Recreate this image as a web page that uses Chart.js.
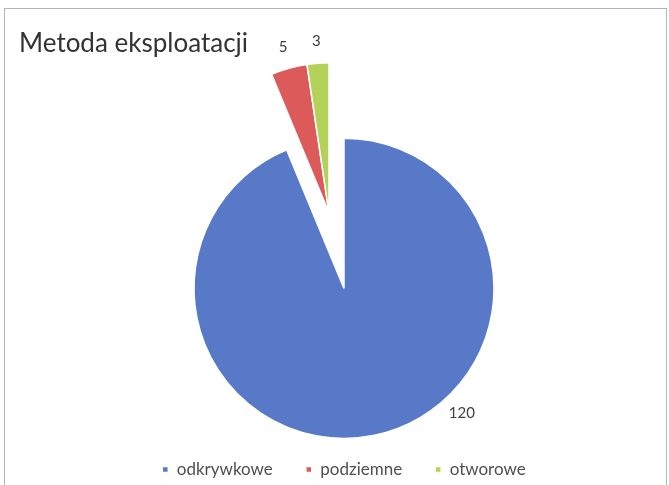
<!DOCTYPE html>
<html>
<head>
<meta charset="utf-8">
<script src="https://cdn.jsdelivr.net/npm/chart.js@4/dist/chart.umd.min.js"></script>
<style>
  html, body { margin: 0; padding: 0; background: #fff; }
  canvas { display: block; }
</style>
</head>
<body>
<canvas id="chart" width="669" height="485"></canvas>
<script>
const categories = ['odkrywkowe', 'podziemne', 'otworowe'];
const values = [120, 5, 3];
const colors = ['#5878c8', '#dc5a5a', '#b4d25a'];

// how far each slice is pulled out of the pie (px)
const explodeBy = [77, 0, 0];

// frame + white background
const framePlugin = {
  id: 'frame',
  beforeDraw(chart) {
    const ctx = chart.ctx;
    ctx.save();
    ctx.fillStyle = '#fff';
    ctx.fillRect(0, 0, chart.width, chart.height);
    ctx.strokeStyle = '#b4b4b4';
    ctx.lineWidth = 1;
    ctx.strokeRect(4.5, 8.5, chart.width - 7, chart.height + 20);
    ctx.restore();
  }
};

// pulls slices out along their mid angle, then re-centres the whole pie in the chart area
const explodePlugin = {
  id: 'explode',
  afterDatasetsUpdate(chart, args, opts) {
    const arcs = chart.getDatasetMeta(0).data;
    let minX = Infinity, maxX = -Infinity, minY = Infinity, maxY = -Infinity;
    const grow = (x, y) => {
      minX = Math.min(minX, x); maxX = Math.max(maxX, x);
      minY = Math.min(minY, y); maxY = Math.max(maxY, y);
    };
    arcs.forEach((arc, i) => {
      const d = opts.distance[i] || 0;
      const mid = (arc.startAngle + arc.endAngle) / 2;
      arc.x += Math.cos(mid) * d;
      arc.y += Math.sin(mid) * d;
      grow(arc.x, arc.y);
      for (let a = arc.startAngle; a < arc.endAngle; a += 0.01) {
        grow(arc.x + Math.cos(a) * arc.outerRadius, arc.y + Math.sin(a) * arc.outerRadius);
      }
      grow(arc.x + Math.cos(arc.endAngle) * arc.outerRadius, arc.y + Math.sin(arc.endAngle) * arc.outerRadius);
    });
    const area = chart.chartArea;
    const dx = (area.left + area.right) / 2 - (minX + maxX) / 2;
    const dy = (area.top + area.bottom) / 2 - (minY + maxY) / 2;
    arcs.forEach(arc => { arc.x += dx; arc.y += dy; });
  }
};

// value labels outside the slices
const valueLabels = {
  id: 'valueLabels',
  afterDatasetsDraw(chart, args, opts) {
    const ctx = chart.ctx;
    const arcs = chart.getDatasetMeta(0).data;
    const data = chart.data.datasets[0].data;
    ctx.save();
    ctx.font = '15px Lato';
    ctx.fillStyle = '#404040';
    ctx.textAlign = 'center';
    ctx.textBaseline = 'middle';
    arcs.forEach((arc, i) => {
      const a = (arc.startAngle + arc.endAngle) / 2 + (opts.turn[i] || 0) * Math.PI / 180;
      const r = arc.outerRadius + opts.gap;
      ctx.fillText(data[i], arc.x + Math.cos(a) * r, arc.y + Math.sin(a) * r);
    });
    ctx.restore();
  }
};

new Chart('chart', {
  type: 'pie',
  data: {
    labels: categories,
    datasets: [{
      data: values,
      backgroundColor: colors,
      borderColor: '#fff',
      borderWidth: 1.5,
      radius: 150,
      clip: false
    }]
  },
  options: {
    responsive: false,
    animation: false,
    layout: {
      padding: { top: 10, left: 19, right: 0, bottom: -3 }
    },
    plugins: {
      title: {
        display: true,
        text: 'Metoda eksploatacji',
        align: 'start',
        color: '#333',
        font: { family: 'Lato', size: 26, weight: 'normal' },
        padding: { top: 18, bottom: 14 }
      },
      legend: {
        position: 'bottom',
        labels: {
          boxWidth: 6,
          boxHeight: 6,
          padding: 33,
          color: '#505050',
          font: { family: 'Lato', size: 17 }
        }
      },
      tooltip: { enabled: false },
      explode: { distance: explodeBy },
      valueLabels: { gap: 22, turn: [-32, 0, 0] }
    }
  },
  plugins: [framePlugin, explodePlugin, valueLabels]
});
</script>
</body>
</html>
